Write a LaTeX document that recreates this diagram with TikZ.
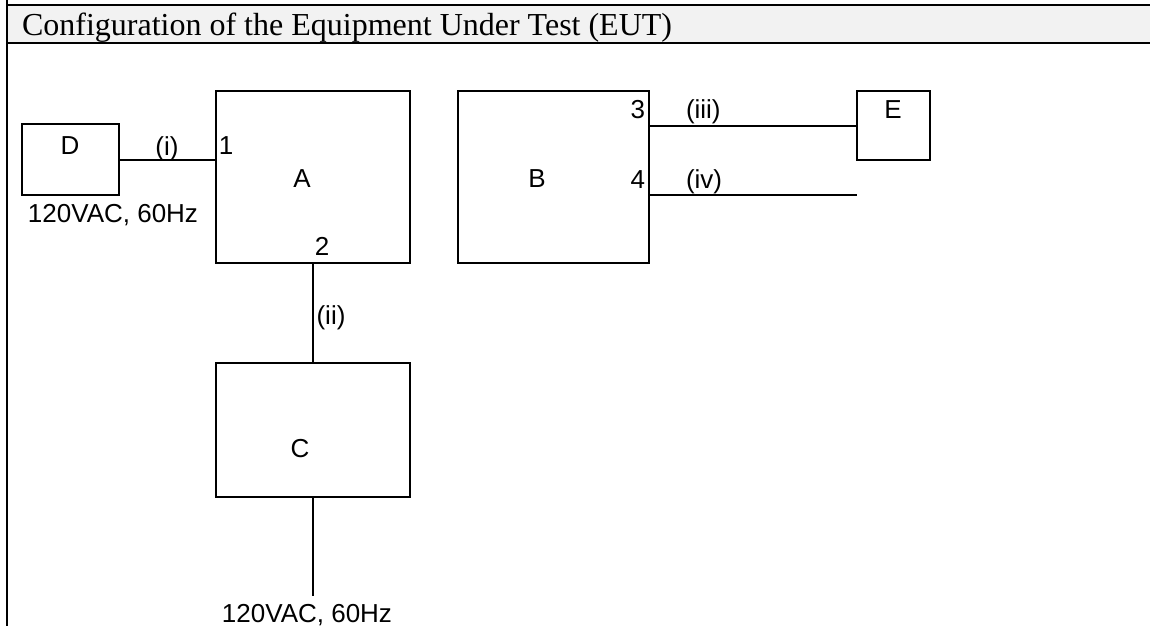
\documentclass[tikz,border=0pt]{standalone}
\usepackage{fontspec}
\setmainfont{Liberation Serif}
\newfontfamily\arialf{Liberation Sans}
\begin{document}
\begin{tikzpicture}[x=1pt,y=-1pt,
  box/.style={draw=black,line width=2pt,inner sep=0pt,outer sep=0pt,anchor=north west},
  wire/.style={draw=black,line width=2pt},
  lbl/.style={inner sep=0pt,outer sep=0pt,anchor=base,font=\arialf\fontsize{26}{30}\selectfont},
  hdr/.style={inner sep=0pt,outer sep=0pt,anchor=base west,font=\fontsize{32}{38}\selectfont}]
\useasboundingbox (0,0) rectangle (1150,626);
% header band
\fill[fill={rgb,255:red,242;green,242;blue,242}] (7,5) rectangle (1150,43.5);
\draw[line width=2pt] (7,5) -- (1150,5);
\draw[line width=2pt] (7,43.5) -- (1150,43.5);
\draw[line width=2pt] (7,0) -- (7,626);
\node[hdr] (title) at (22,36) {Configuration of the Equipment Under Test (EUT)};
% boxes
\node[box,minimum width=97pt,minimum height=71pt] (D) at (22,124) {};
\node[box,minimum width=194pt,minimum height=172pt] (A) at (216,91) {};
\node[box,minimum width=191pt,minimum height=172pt] (B) at (458,91) {};
\node[box,minimum width=73pt,minimum height=69pt] (E) at (857,91) {};
\node[box,minimum width=194pt,minimum height=134pt] (C) at (216,363) {};
\coordinate (ivend) at (857,195);
\coordinate (pwr) at (313,596);
% connectors
\draw[wire] (D.east) -- (D.east -| A.west);
\draw[wire] (A.south) -- (C.north);
\draw[wire] (B.east |- E.west) -- (E.west);
\draw[wire] (B.east |- ivend) -- (ivend);
\draw[wire] (C.south) -- (pwr);
% labels
\node[lbl] (tD) at (70,154) {D};
\node[lbl] (ti) at (167,155) {(i)};
\node[lbl] (t1) at (226,154) {1};
\node[lbl] (tA) at (302,187) {A};
\node[lbl] (tpwr1) at (113,222) {120VAC, 60Hz};
\node[lbl] (t2) at (322,255) {2};
\node[lbl] (tii) at (331,324) {(ii)};
\node[lbl] (tC) at (300,457) {C};
\node[lbl] (tpwr2) at (307,622) {120VAC, 60Hz};
\node[lbl] (tB) at (537,187) {B};
\node[lbl,anchor=base east] (t3) at (645,118) {3};
\node[lbl,anchor=base east] (t4) at (645,188) {4};
\node[lbl,anchor=base west] (tiii) at (686,118) {(iii)};
\node[lbl,anchor=base west] (tiv) at (686,188) {(iv)};
\node[lbl] (tE) at (893,118) {E};
\end{tikzpicture}
\end{document}
